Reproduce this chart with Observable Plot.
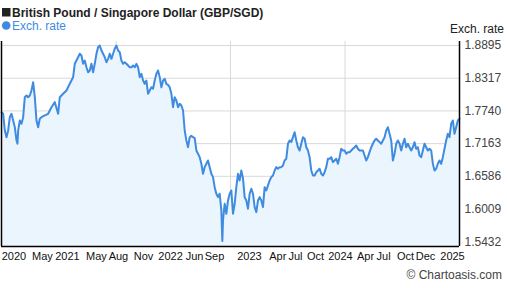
<!DOCTYPE html>
<html><head><meta charset="utf-8">
<script src="https://cdn.jsdelivr.net/npm/d3@7"></script>
<script src="https://cdn.jsdelivr.net/npm/@observablehq/plot@0.6"></script>
<style>
body{margin:0;background:#fff;}
#wrap{position:relative;width:507px;height:288px;overflow:hidden;}
</style></head><body>
<div id="wrap"></div>
<script>
const titleText = "British Pound / Singapore Dollar (GBP/SGD)";
const seriesName = "Exch. rate";
const axisTitle = "Exch. rate";
const credit = "© Chartoasis.com";

// sample positions along the 5-year period (step units, 0..275)
const steps = [
  ...d3.range(0, 10), 9.6, ...d3.range(10, 25),
  26, 28, 30, 32, 34, 35, 37, 39, 41, 43,
  ...d3.range(44, 133), 132.6, ...d3.range(133, 276)
];

// GBP/SGD exchange rate
const rates = [
  1.7718,1.7690,1.7395,1.7277,1.7395,1.7630,1.7690,1.7572,1.7453,1.7219,
  1.7160,
  1.7395,1.7572,1.7513,1.7630,1.7983,1.8013,1.7983,1.8013,1.8101,1.8247,1.7983,1.7572,1.7453,1.7602,1.7630,
  1.7660,1.7690,1.7806,1.7895,1.7690,1.7983,1.8043,1.8101,1.8219,1.8336,
  1.8572,1.8630,1.8689,1.8749,1.8719,1.8572,1.8630,1.8512,1.8424,1.8454,
  1.8572,1.8424,1.8572,1.8749,1.8865,1.8895,1.8807,1.8749,1.8689,1.8600,
  1.8660,1.8749,1.8660,1.8749,1.8837,1.8895,1.8807,1.8777,1.8630,1.8572,
  1.8600,1.8572,1.8542,1.8512,1.8512,1.8542,1.8512,1.8572,1.8512,1.8336,
  1.8396,1.8277,1.8219,1.8277,1.8043,1.8101,1.8159,1.8131,1.8277,1.8396,
  1.8454,1.8336,1.8159,1.8277,1.8307,1.8219,1.8200,1.8159,1.8043,1.7806,
  1.7983,1.7925,1.7806,1.7866,1.7836,1.7748,1.7395,1.7220,1.7100,1.7277,
  1.7300,1.7277,1.7260,1.7042,1.6984,1.6924,1.6808,1.6631,1.6748,1.6808,
  1.6866,1.6748,1.6631,1.6571,1.6395,1.6278,1.6218,1.6278,1.5984,
  1.5445,
  1.5807,1.6102,1.5925,1.6160,1.6278,1.6336,1.5925,1.6102,1.6395,1.6631,
  1.6513,1.6689,1.6550,1.6218,1.6160,1.6014,1.6278,1.6366,1.6278,1.6042,
  1.5954,1.6160,1.6218,1.6160,1.6042,1.6395,1.6336,1.6425,1.6513,1.6571,
  1.6601,1.6689,1.6748,1.6719,1.6748,1.6748,1.6778,1.6866,1.6896,1.7160,
  1.7219,1.7189,1.7277,1.7365,1.7219,1.7100,1.7042,1.7160,1.7277,1.7249,
  1.7100,1.7042,1.6924,1.6689,1.6601,1.6601,1.6659,1.6689,1.6719,1.6631,
  1.6601,1.6659,1.6748,1.6896,1.6896,1.6924,1.6836,1.6866,1.6896,1.6808,
  1.6924,1.7072,1.7042,1.7042,1.6984,1.7012,1.7012,1.7042,1.7072,1.7100,
  1.7130,1.7072,1.7042,1.7042,1.7042,1.6954,1.6866,1.6924,1.7012,1.7100,
  1.7160,1.7219,1.7249,1.7219,1.7189,1.7160,1.7219,1.7277,1.7395,1.7453,
  1.7337,1.7219,1.6866,1.6984,1.7160,1.7219,1.7160,1.7042,1.7160,1.7249,
  1.7100,1.7160,1.7100,1.7042,1.7100,1.7189,1.7072,1.7100,1.6954,1.6924,
  1.7042,1.7160,1.7100,1.7042,1.7072,1.7042,1.6808,1.6689,1.6719,1.6808,
  1.6866,1.6808,1.6924,1.7072,1.7219,1.7337,1.7277,1.7513,1.7572,1.7337,
  1.7453,1.7572,1.7602
];

const yTicks = [1.5432, 1.6009, 1.6586, 1.7163, 1.7740, 1.8317, 1.8895];
const xTickLabels = ["2020","May","2021","May","Aug","Nov","2022","Jun","Sep","2023","Apr","Jul","Oct","2024","Apr","Jul","Oct","Dec","2025"];
const xTickSteps = [7.5,24.6,39.6,57.0,70.2,85.3,101.5,115.9,127.9,148.9,165.9,176.5,188.5,203.5,218.6,229.4,242.6,254.6,270.8];
const vGridSteps = [68.75, 137.5, 206.25];

const xDomain = [0, 275];
const yDomain = [1.5347, 1.8966];
const lineColor = "#3f8be0";
const fillColor = "#ebf5fe";
const gridColor = "#d9d9d9";

const data = steps.map((k, i) => ({k, v: rates[i]}));
const labelOf = new Map(xTickSteps.map((s, i) => [s, xTickLabels[i]]));

const chart = Plot.plot({
  width: 507, height: 288,
  marginTop: 41, marginRight: 48, marginBottom: 42, marginLeft: 1,
  style: {fontFamily: "'Liberation Sans', Arial, sans-serif", fontSize: "12px", background: "#fff"},
  x: {domain: xDomain, axis: null},
  y: {domain: yDomain, axis: null},
  marks: [
    Plot.gridY(yTicks, {stroke: gridColor, strokeOpacity: 1}),
    Plot.gridX(vGridSteps, {stroke: gridColor, strokeOpacity: 1}),
    Plot.areaY(data, {x: "k", y1: yDomain[0], y2: "v", fill: fillColor}),
    Plot.lineY(data, {x: "k", y: "v", stroke: lineColor, strokeWidth: 2}),
    Plot.ruleX([xDomain[0]], {stroke: "#000", strokeWidth: 1.5}),
    Plot.ruleX([xDomain[1]], {stroke: "#000", strokeWidth: 1.5}),
    Plot.ruleY([yDomain[0]], {stroke: "#000", strokeWidth: 1.5}),
    Plot.axisY(yTicks, {anchor: "right", tickSize: 0, tickPadding: 5, label: null,
      tickFormat: d => d.toFixed(4), fill: "#444", fontSize: 12}),
    Plot.axisX(xTickSteps, {anchor: "bottom", tickSize: 0, tickPadding: 6, label: null,
      tickFormat: d => labelOf.get(d), fill: "#111", fontSize: 11})
  ]
});
document.getElementById("wrap").appendChild(chart);

const svg = d3.select(chart);
const f = "'Liberation Sans', Arial, sans-serif";
svg.append("rect").attr("x", 2).attr("y", 8).attr("width", 8.5).attr("height", 8.5).attr("fill", "#222");
svg.append("text").attr("x", 12).attr("y", 16.5).attr("text-anchor", "start").attr("font-family", f).attr("font-size", 12)
  .attr("font-weight", "bold").attr("fill", "#222").text(titleText);
svg.append("circle").attr("cx", 6.2).attr("cy", 25.5).attr("r", 4.3).attr("fill", lineColor);
svg.append("text").attr("x", 12).attr("y", 30).attr("text-anchor", "start").attr("font-family", f).attr("font-size", 12)
  .attr("fill", lineColor).text(seriesName);
svg.append("text").attr("x", 504).attr("y", 33).attr("text-anchor", "end").attr("font-family", f)
  .attr("font-size", 12).attr("fill", "#222").text(axisTitle);
svg.append("text").attr("x", 502).attr("y", 279).attr("text-anchor", "end").attr("font-family", f)
  .attr("font-size", 12).attr("fill", "#444").text(credit);
</script>
</body></html>
